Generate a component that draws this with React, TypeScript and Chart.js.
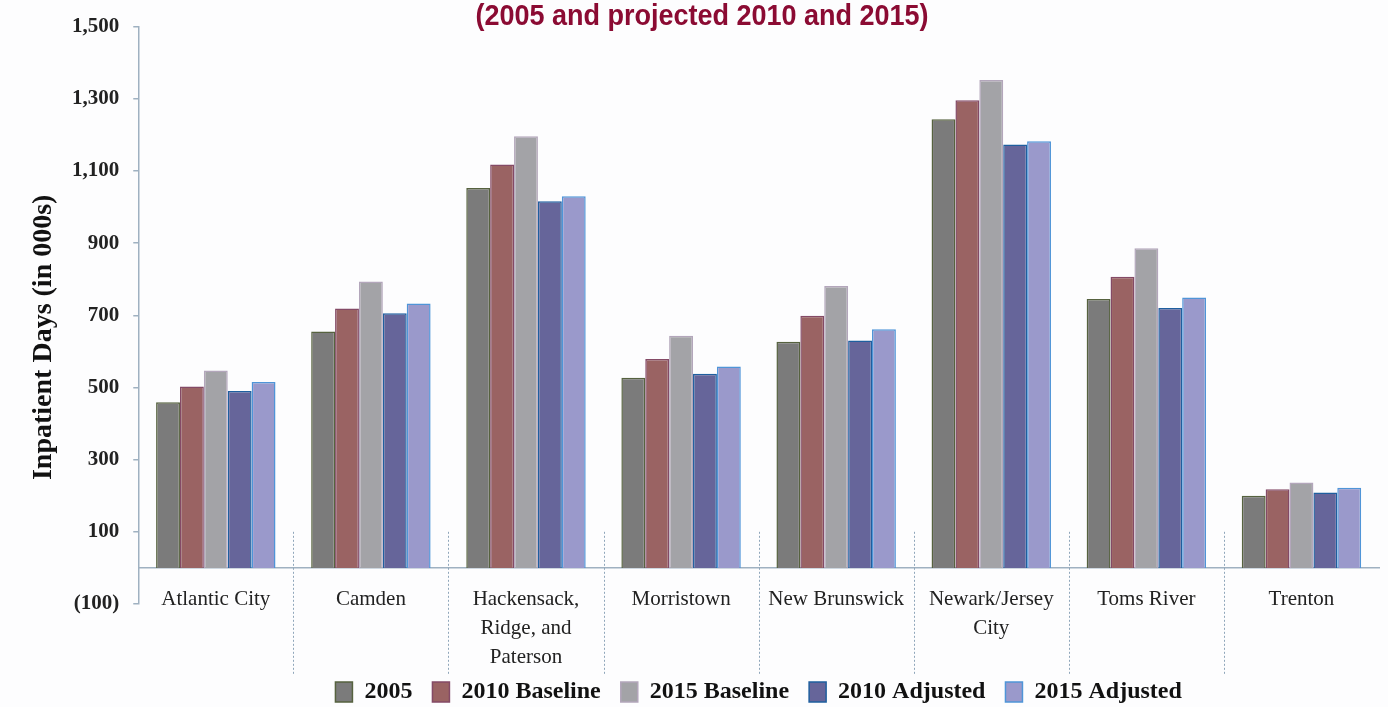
import React, { useEffect, useRef } from "react";
import { Chart, registerables } from "chart.js";

Chart.register(...registerables);

const categories: (string | string[])[] = [
  "Atlantic City",
  "Camden",
  ["Hackensack,", "Ridge, and", "Paterson"],
  "Morristown",
  "New Brunswick",
  ["Newark/Jersey", "City"],
  "Toms River",
  "Trenton",
];

const values2005 = [459, 655, 1053, 527, 627, 1243, 745, 200];
const values2010Baseline = [503, 719, 1118, 579, 699, 1296, 807, 218];
const values2015Baseline = [547, 794, 1196, 643, 781, 1352, 886, 237];
const values2010Adjusted = [490, 706, 1016, 538, 630, 1173, 720, 209];
const values2015Adjusted = [515, 733, 1030, 558, 661, 1182, 749, 222];

const seriesNames = ["2005", "2010 Baseline", "2015 Baseline", "2010 Adjusted", "2015 Adjusted"];
const seriesFills = ["#7b7b7b", "#9a6363", "#a3a3a7", "#66659a", "#9a99cb"];
const seriesBorders = ["#56623f", "#844a66", "#b3a6bb", "#1f5f9f", "#4f95d8"];

const yMin = -100;
const yMax = 1500;
const yStep = 200;

const titleText = "(2005 and projected 2010 and 2015)";
const yTitle = "Inpatient Days (in 000s)";

const axisColor = "#9fb1c1";
const serif = "'Liberation Serif', 'Times New Roman', serif";
const yTitleSize = 28;

const separatorPlugin = {
  id: "separators",
  afterDatasetsDraw(chart: any) {
    const x = chart.scales.x;
    const y = chart.scales.y;
    const ctx = chart.ctx;
    ctx.save();
    ctx.strokeStyle = "#8fa6ba";
    ctx.lineWidth = 1;
    ctx.setLineDash([2, 2]);
    const top = y.getPixelForValue(100);
    const bottom = chart.chartArea.bottom + 71;
    for (let i = 0; i < categories.length - 1; i++) {
      const px = Math.round((x.getPixelForValue(i) + x.getPixelForValue(i + 1)) / 2) + 0.5;
      ctx.beginPath();
      ctx.moveTo(px, top);
      ctx.lineTo(px, bottom);
      ctx.stroke();
    }
    ctx.restore();
  },
};

// condensed bold title and the y-axis title (drawn slightly below the axis middle, as in the source)
const textPlugin = {
  id: "texts",
  afterDraw(chart: any) {
    const ctx = chart.ctx;
    ctx.save();
    ctx.font = "bold 30px 'Liberation Sans', Arial, sans-serif";
    ctx.fillStyle = "#8b0b33";
    ctx.textAlign = "center";
    ctx.textBaseline = "middle";
    ctx.translate(chart.width / 2 + 8, 17);
    ctx.scale(0.9, 1);
    ctx.fillText(titleText, 0, 0);
    ctx.restore();

    const ys = chart.scales.y;
    const area = chart.chartArea;
    ctx.save();
    ctx.font = `bold ${yTitleSize}px ${serif}`;
    ctx.fillStyle = "#111";
    ctx.textAlign = "center";
    ctx.textBaseline = "middle";
    ctx.translate(ys.left + yTitleSize / 2, (area.top + area.bottom) / 2 + 22);
    ctx.rotate(-Math.PI / 2);
    ctx.fillText(yTitle, 0, 0);
    ctx.restore();
  },
};

export default function App() {
  const ref = useRef<HTMLCanvasElement | null>(null);

  useEffect(() => {
    if (!ref.current) return;
    const seriesData = [values2005, values2010Baseline, values2015Baseline, values2010Adjusted, values2015Adjusted];
    const chart = new Chart(ref.current, {
      type: "bar",
      data: {
        labels: categories,
        datasets: seriesData.map((d, i) => ({
          label: seriesNames[i],
          data: d,
          backgroundColor: seriesFills[i],
          borderColor: seriesBorders[i],
          borderWidth: 1.5,
          categoryPercentage: 0.77,
          barPercentage: 1.0,
        })),
      },
      options: {
        animation: false,
        responsive: true,
        maintainAspectRatio: false,
        layout: { padding: { left: 30, right: 9, top: 25, bottom: -7 } },
        plugins: {
          tooltip: { enabled: false },
          title: { display: false },
          legend: {
            position: "bottom",
            fullSize: false,
            title: { display: true, text: "", font: { size: 10, lineHeight: 1 }, padding: { top: 46, bottom: 0 } },
            labels: {
              boxWidth: 17,
              boxHeight: 20,
              padding: 20,
              color: "#111",
              font: { family: serif, weight: "bold", size: 24 },
            },
          },
        },
        scales: {
          x: {
            position: { y: 0 } as any,
            grid: { display: false, drawTicks: false },
            border: { display: true, color: axisColor, width: 1.5 },
            ticks: {
              autoSkip: false,
              maxRotation: 0,
              padding: 17.5,
              color: "#222",
              font: { family: serif, size: 21, lineHeight: 1.38 },
            },
          },
          y: {
            min: yMin,
            max: yMax,
            grid: { drawOnChartArea: false, drawTicks: true, tickLength: 5, color: axisColor, lineWidth: 1.5 },
            border: { display: true, color: axisColor, width: 1.5 },
            ticks: {
              stepSize: yStep,
              padding: 14,
              color: "#222",
              font: { family: serif, weight: "bold", size: 21 },
              callback: (v: any) => (v < 0 ? `(${Math.abs(v)})` : Number(v).toLocaleString("en-US")),
            },
            title: {
              display: true,
              text: yTitle,
              color: "rgba(0,0,0,0)",
              font: { family: serif, weight: "bold", size: yTitleSize, lineHeight: 1.0 },
              padding: { top: 0, bottom: 0 },
            },
          },
        },
      },
      plugins: [separatorPlugin, textPlugin],
    });
    return () => chart.destroy();
  }, []);

  return (
    <div style={{ position: "fixed", left: 0, top: 0, width: 1388, height: 707, background: "#fdfdfe" }}>
      <canvas ref={ref} />
    </div>
  );
}
